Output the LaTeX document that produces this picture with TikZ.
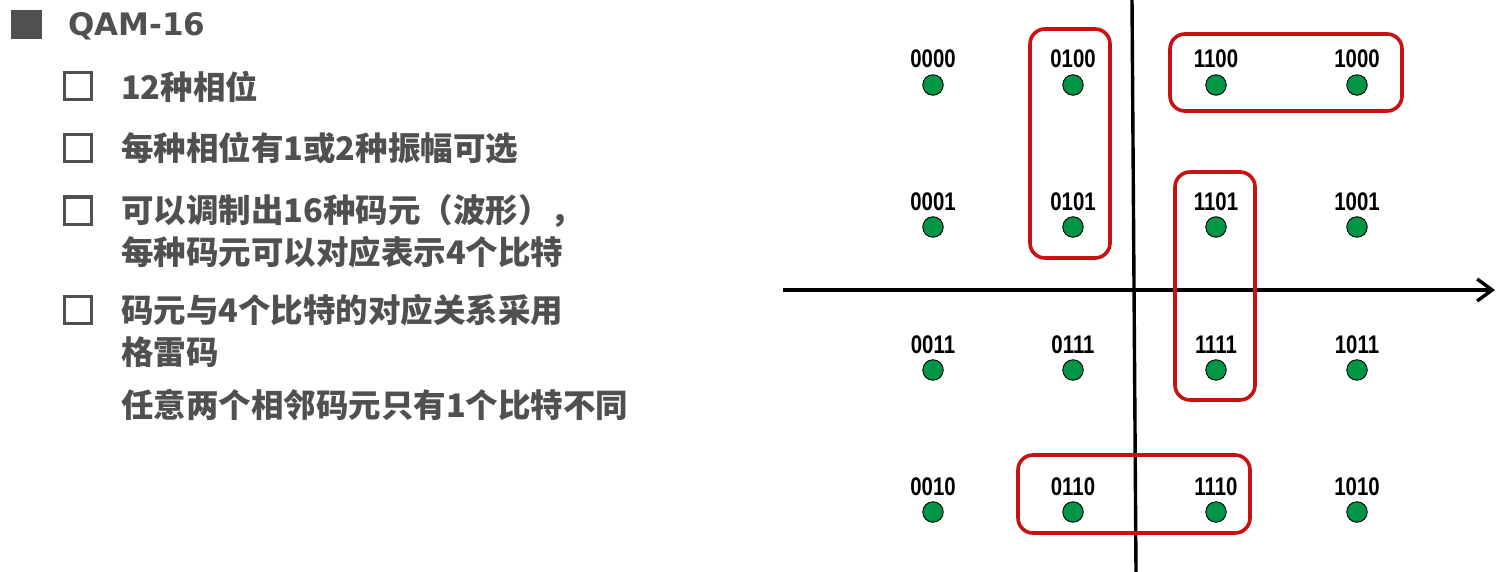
\documentclass[tikz,border=0pt]{standalone}
\usepackage{fontspec}
\usetikzlibrary{arrows.meta}
\newfontfamily\cjk{Noto Sans CJK SC}
\newfontfamily\latb{DejaVu Sans}
\newfontfamily\labfont[FakeStretch=0.8]{Liberation Sans}
\definecolor{qgreen}{RGB}{0,150,70}
\definecolor{qred}{RGB}{200,18,18}
\definecolor{tgray}{RGB}{80,80,80}
\tikzset{
  dot/.style={circle, minimum size=20.5pt, inner sep=0pt, fill=qgreen, draw=black, line width=0.9pt},
  lab/.style={anchor=base, inner sep=0pt, font=\labfont\bfseries\fontsize{25.5}{26}\selectfont, text=black},
  grp/.style={draw=qred, line width=3.6pt, rounded corners=15pt},
  axis/.style={draw=black, line width=3.4pt},
  txt/.style={anchor=base west, inner sep=0pt, text=tgray, font=\cjk\bfseries\fontsize{32.5}{38}\selectfont},
  hbox/.style={draw=tgray, line width=3pt},
}
\begin{document}
\begin{tikzpicture}[x=1pt,y=-1pt]
\useasboundingbox[fill=white] (0,0) rectangle (1498,572);
% left text
\fill[tgray] (11,10) rectangle (42,39);
\node[anchor=base west, inner sep=0pt, text=tgray, font=\latb\bfseries\fontsize{31}{36}\selectfont] (title) at (68,35.5) {QAM-16};
\draw[hbox] (64,73) rectangle (91,100);
\node[txt] (t1) at (121,99.5) {12种相位};
\draw[hbox] (64,135) rectangle (91,162);
\node[txt] (t2) at (121,161) {每种相位有1或2种振幅可选};
\draw[hbox] (64,197) rectangle (91,224);
\node[txt] (t3) at (121,222.5) {可以调制出16种码元（波形），};
\node[txt] (t4) at (121,264.5) {每种码元可以对应表示4个比特};
\draw[hbox] (64,296) rectangle (91,323);
\node[txt] (t5) at (121,322.5) {码元与4个比特的对应关系采用};
\node[txt] (t6) at (121,364.5) {格雷码};
\node[txt] (t7) at (121,417.5) {任意两个相邻码元只有1个比特不同};
% axes
\coordinate (yt) at (1132,0);
\coordinate (yb) at (1136,572);
\coordinate (xl) at (783,290);
\coordinate (xr) at (1495,290);
\draw[axis] (yt) -- (yb);
\draw[axis, -{Straight Barb[length=15pt,width=22pt]}] (xl) -- (xr);
% red groups
\draw[grp] (1030,29) rectangle (1110,258);
\draw[grp] (1170,34) rectangle (1402,111);
\draw[grp] (1175,172) rectangle (1255,400);
\draw[grp] (1018,455) rectangle (1250,533);
% constellation
\foreach \code/\x/\y in {0000/933/85, 0100/1073/85, 1100/1216/85, 1000/1357/85,
                         0001/933/227, 0101/1073/227, 1101/1216/227, 1001/1357/227,
                         0011/933/370, 0111/1073/370, 1111/1216/370, 1011/1357/370,
                         0010/933/512, 0110/1073/512, 1110/1216/512, 1010/1357/512}{
  \node[dot] (d\code) at (\x,\y) {};
  \node[lab] (l\code) at (\x,\y-17) {\code};
}
\end{tikzpicture}
\end{document}
